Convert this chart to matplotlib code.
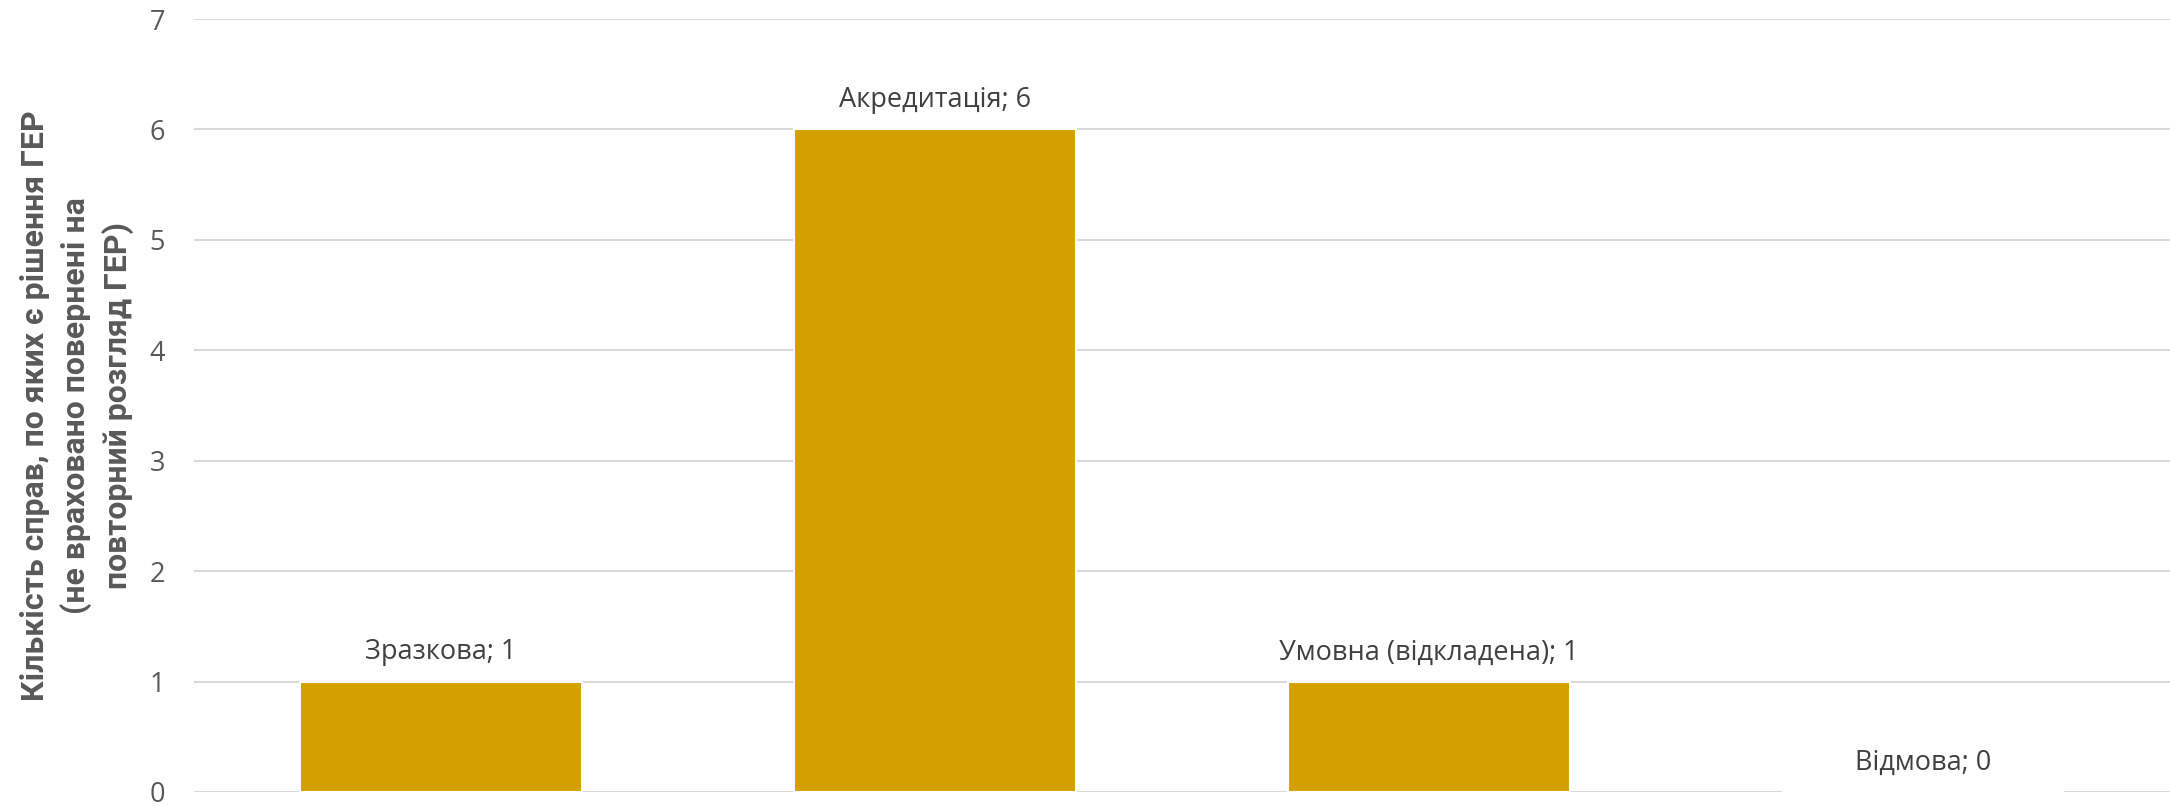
import matplotlib.pyplot as plt
import numpy as np

categories = ['Зразкова', 'Акредитація', 'Умовна (відкладена)', 'Відмова']
counts = [1, 6, 1, 0]
yticks = [0, 1, 2, 3, 4, 5, 6, 7]
ylabel = 'Кількість справ, по яких є рішення ГЕР\n(не враховано повернені на\nповторний розгляд ГЕР)'

plt.rcParams['font.family'] = ['Open Sans', 'DejaVu Sans']

fig = plt.figure(figsize=(21.7, 8.06), dpi=100)
ax = fig.add_axes([194 / 2170, 14 / 806, 1976 / 2170, 773 / 806])

x = np.arange(len(categories))
bars = ax.bar(x, counts, width=0.57, color='#D4A000', edgecolor='white', linewidth=1.5, zorder=3)

for xi, c, v in zip(x, categories, counts):
    ax.annotate(f'{c}; {v}', (xi, v), xytext=(0, 21), textcoords='offset points',
                ha='center', va='center', fontsize=19.5, color='#404040')

ax.set_xlim(-0.5, len(categories) - 0.5)
ax.set_ylim(0, 7)
ax.set_yticks(yticks)
ax.set_xticks([])
ax.yaxis.grid(True, color='#D9D9D9', linewidth=1.5, zorder=0)
ax.tick_params(axis='y', length=0, labelsize=19.5, labelcolor='#595959', pad=21)
for s in ax.spines.values():
    s.set_visible(False)

ax.set_ylabel(ylabel, fontsize=23, fontweight='bold', color='#595959',
              family=['Liberation Sans Narrow', 'Roboto', 'DejaVu Sans'],
              linespacing=1.4, labelpad=11)

fig.savefig('out.png', dpi=100)
